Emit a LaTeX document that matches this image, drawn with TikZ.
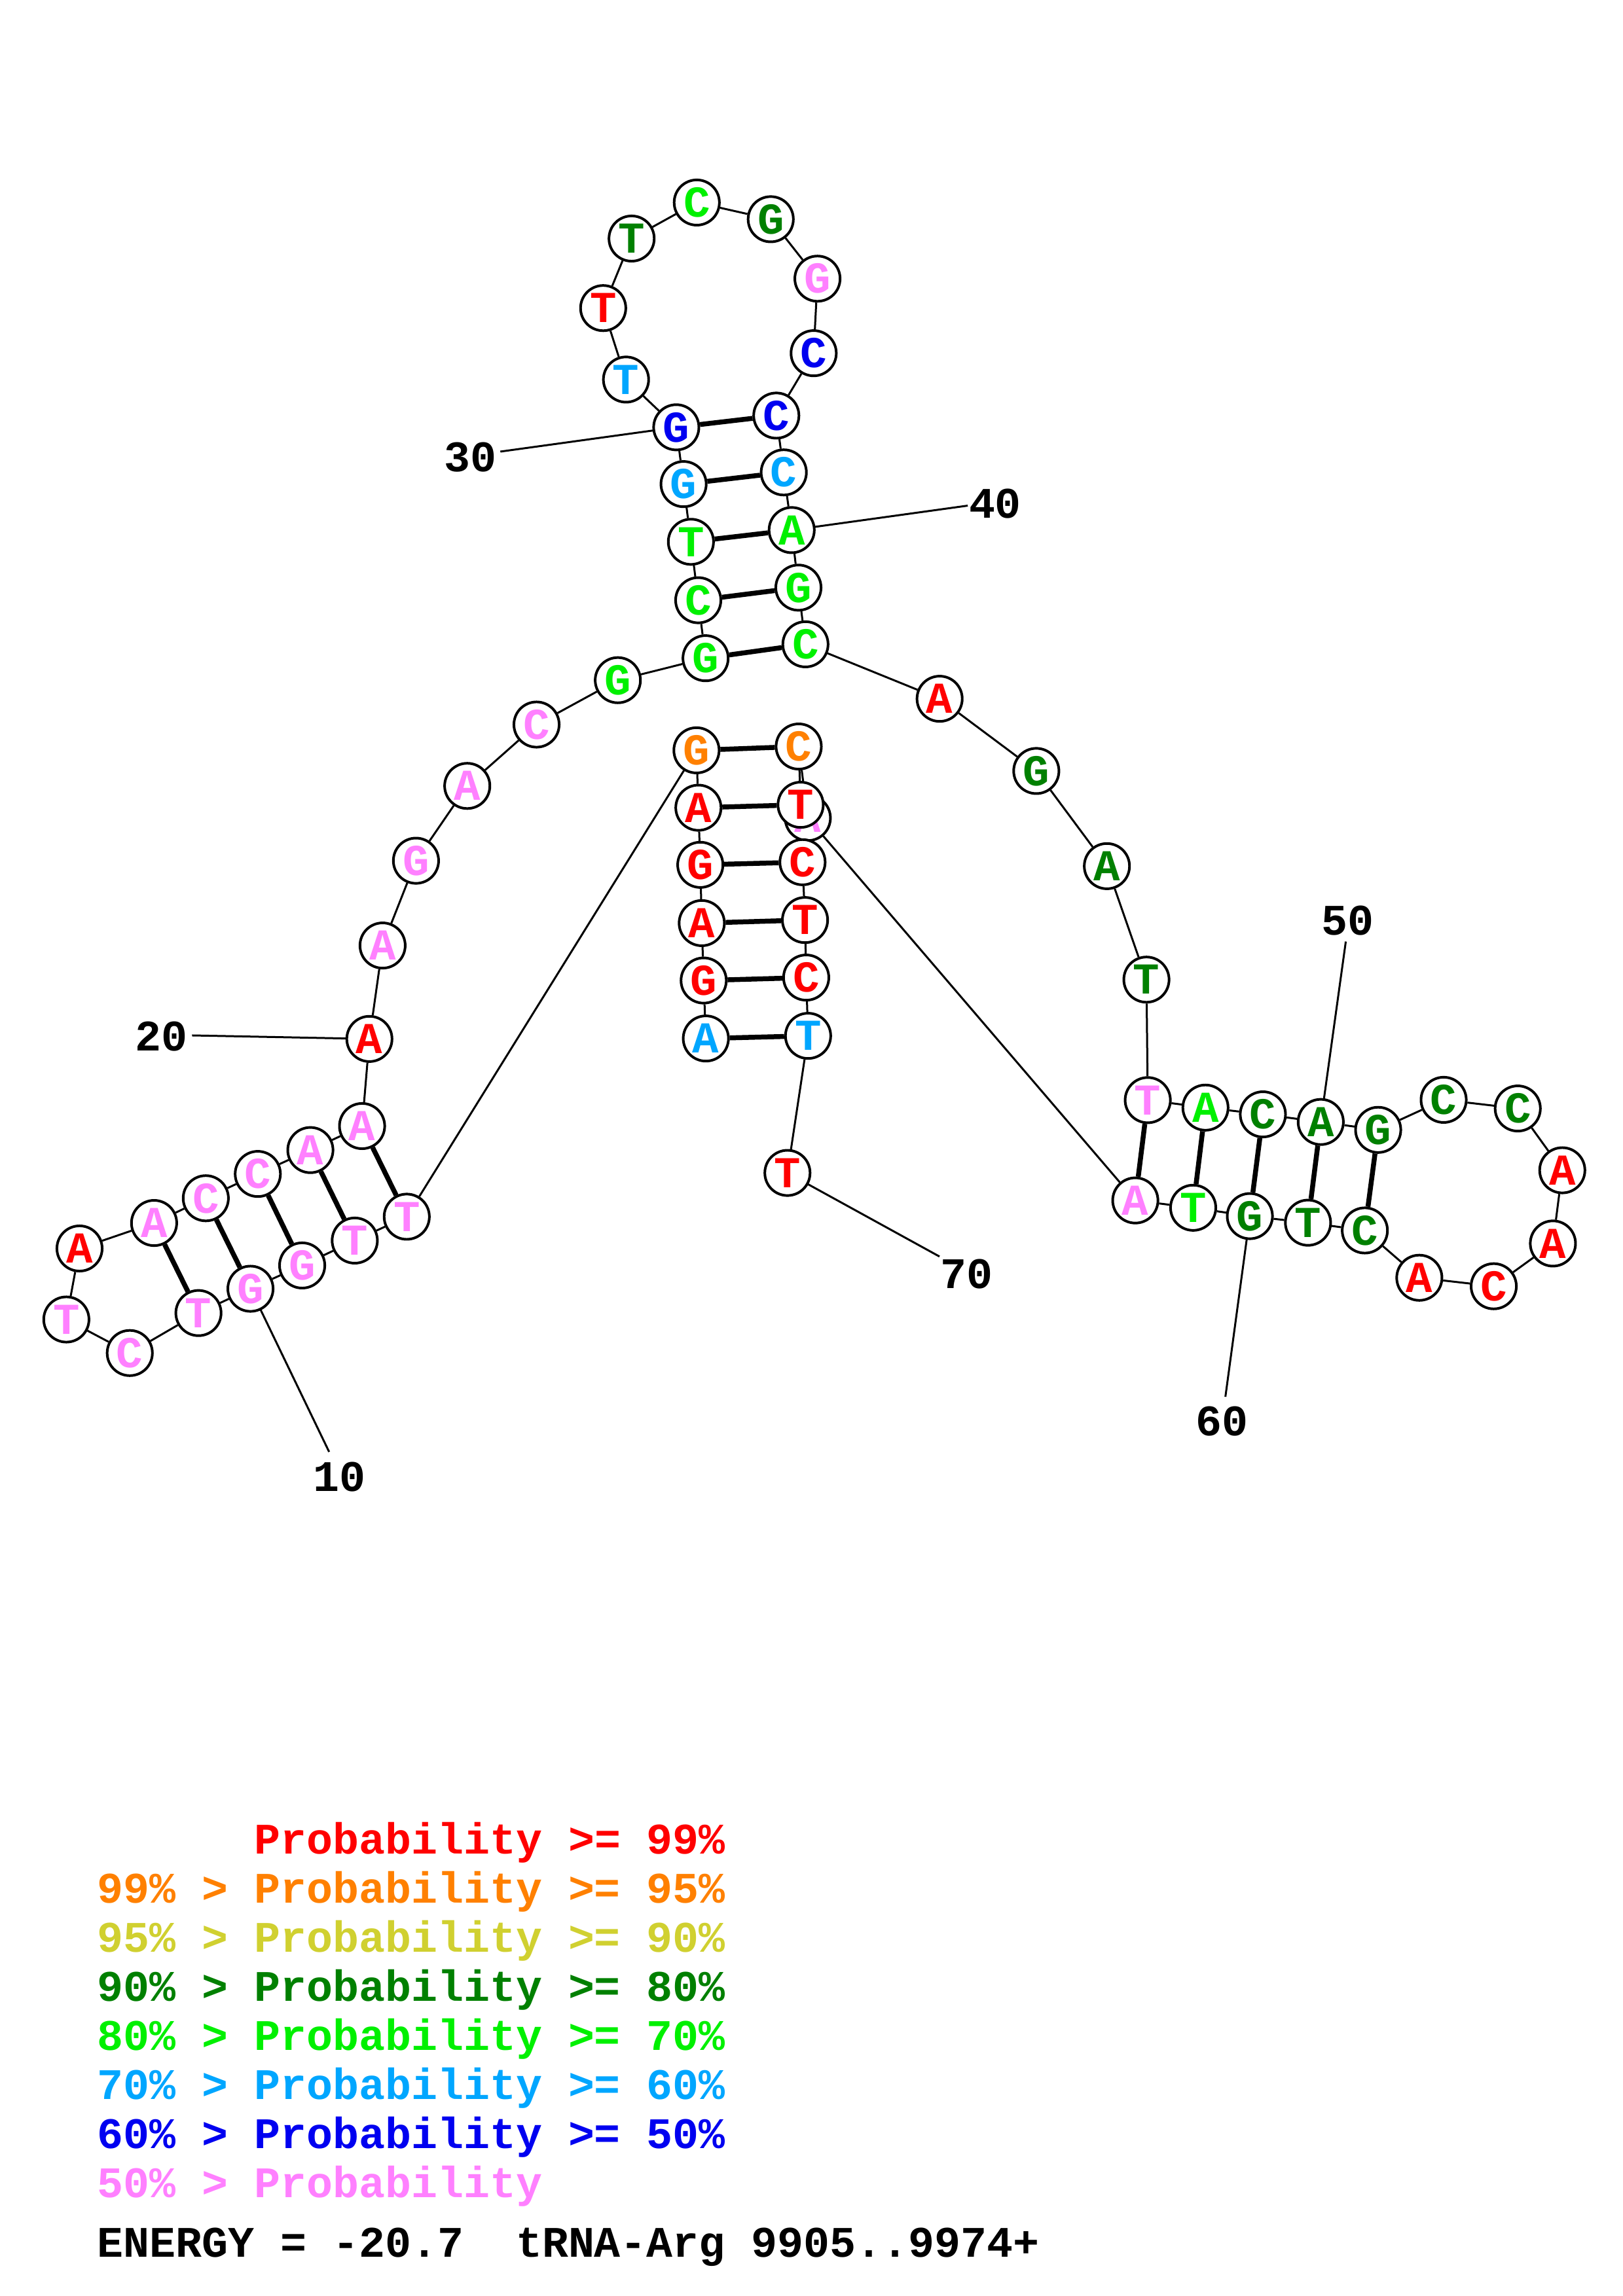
\documentclass[tikz,border=0pt]{standalone}
\usepackage{fontspec}
\setmonofont{Liberation Mono}
\usetikzlibrary{backgrounds}
\definecolor{pR}{RGB}{255,0,0}
\definecolor{pO}{RGB}{255,128,0}
\definecolor{pY}{RGB}{208,208,48}
\definecolor{pDG}{RGB}{0,128,0}
\definecolor{pG}{RGB}{0,240,0}
\definecolor{pLB}{RGB}{0,166,255}
\definecolor{pB}{RGB}{0,0,240}
\definecolor{pP}{RGB}{255,128,255}
\tikzset{
  nt/.style={circle,draw=black,line width=0.95pt,fill=white,minimum size=16.6pt,inner sep=0pt,
    font=\ttfamily\bfseries\fontsize{16.2pt}{18pt}\selectfont},
  bb/.style={line width=0.72pt},
  bp/.style={line width=1.8pt},
  numlbl/.style={inner sep=0pt,font=\ttfamily\bfseries\fontsize{16pt}{18pt}\selectfont},
  leg/.style={anchor=base west,inner sep=0pt,font=\ttfamily\bfseries\fontsize{16pt}{18pt}\selectfont}
}
\begin{document}
\begin{tikzpicture}[x=0.5373pt,y=-0.5373pt]
\useasboundingbox (0,0) rectangle (1108,1568);
% nucleotides
\foreach \i/\l/\c/\x/\y in {
 1/A/pLB/481.9/709.2, 2/G/pR/480.4/669.6, 3/A/pR/479.1/630.4, 4/G/pR/478.1/590.6,
 5/A/pR/476.8/551.6, 6/G/pO/475.5/512.4, 7/T/pP/277.7/830.9, 8/T/pP/242.2/847.2,
 9/G/pP/206.3/864.2, 10/G/pP/171.0/880.1, 11/T/pP/135.5/896.7, 12/C/pP/88.6/924.0,
 13/T/pP/45.3/901.1, 14/A/pR/54.3/852.6, 15/A/pP/105.2/835.2, 16/C/pP/140.5/818.3,
 17/C/pP/176.0/801.7, 18/A/pP/211.9/785.4, 19/A/pP/247.2/769.0, 20/A/pR/252.2/709.5,
 21/A/pP/261.2/645.7, 22/G/pP/284.0/587.8, 23/A/pP/319.0/536.7, 24/C/pP/366.3/494.8,
 25/G/pG/421.8/464.5, 26/G/pG/481.7/449.5, 27/C/pG/476.7/409.9, 28/T/pG/471.7/370.0,
 29/G/pLB/466.7/330.6, 30/G/pB/461.7/291.8, 31/T/pLB/427.4/259.2, 32/T/pR/411.8/210.4,
 33/T/pDG/431.2/162.9, 34/C/pG/475.7/138.3, 35/G/pDG/526.2/149.7, 36/G/pP/558.1/190.3,
 37/C/pB/555.5/241.2, 38/C/pB/530.0/283.8, 39/C/pLB/535.1/322.6, 40/A/pG/540.5/362.0,
 41/G/pG/545.1/401.3, 42/C/pG/549.9/440.0, 43/A/pR/641.5/477.2, 44/G/pDG/707.5/526.5,
 45/A/pDG/755.7/591.5, 46/T/pDG/782.7/669.0, 47/T/pP/783.6/751.3, 48/A/pG/823.0/756.4,
 49/C/pDG/862.2/761.0, 50/A/pDG/901.7/766.2, 51/G/pDG/940.9/771.6, 52/C/pDG/985.6/751.1,
 53/C/pDG/1036.2/757.0, 54/A/pR/1066.6/799.2, 55/A/pR/1060.2/849.2, 56/C/pR/1019.8/878.4,
 57/A/pR/969.0/872.6, 58/C/pDG/931.8/840.3, 59/T/pDG/893.0/835.0, 60/G/pDG/853.3/830.5,
 61/T/pG/814.6/824.8, 62/A/pP/775.1/819.8, 63/A/pP/551.5/558.6, 64/C/pO/545.3/509.8,
 65/T/pR/546.6/549.6, 66/C/pR/547.9/588.8, 67/T/pR/549.6/628.3, 68/C/pR/550.4/667.6,
 69/T/pLB/551.7/707.4, 70/T/pR/537.6/801.0}
 { \node[nt,text=\c] (n\i) at (\x,\y) {\l}; }
% label end points
\coordinate (e10) at (224.7,991.5);
\coordinate (e20) at (131.1,707.1);
\coordinate (e30) at (341.6,308.4);
\coordinate (e40) at (660.7,345.3);
\coordinate (e50) at (918.8,643.0);
\coordinate (e60) at (836.6,953.9);
\coordinate (e70) at (641.4,858.1);
\node[numlbl] (t10) at (231.7,1008.6) {10};
\node[numlbl] (t20) at (110.1,707.9) {20};
\node[numlbl] (t30) at (321.1,312.1) {30};
\node[numlbl] (t40) at (679.4,343.8) {40};
\node[numlbl] (t50) at (919.9,628.7) {50};
\node[numlbl] (t60) at (834.3,970.6) {60};
\node[numlbl] (t70) at (660.0,870.1) {70};
\begin{scope}[on background layer]
  \foreach \i [evaluate=\i as \j using int(\i+1)] in {1,...,69}
    { \draw[bb] (n\i) -- (n\j); }
  \foreach \a/\b in {1/69,2/68,3/67,4/66,5/65,6/64,7/19,8/18,9/17,10/16,11/15,
                     26/42,27/41,28/40,29/39,30/38,47/62,48/61,49/60,50/59,51/58}
    { \draw[bp] (n\a) -- (n\b); }
  \foreach \k in {10,20,30,40,50,60,70}
    { \draw[bb] (n\k.center) -- (e\k); }
\end{scope}
% legend
\node[leg,text=pR]  (l1) at (66,1266)   {\phantom{99\% > }Probability >= 99\%};
\node[leg,text=pO]  (l2) at (66,1299.5) {99\% > Probability >= 95\%};
\node[leg,text=pY]  (l3) at (66,1333)   {95\% > Probability >= 90\%};
\node[leg,text=pDG] (l4) at (66,1366.5) {90\% > Probability >= 80\%};
\node[leg,text=pG]  (l5) at (66,1400)   {80\% > Probability >= 70\%};
\node[leg,text=pLB] (l6) at (66,1433.5) {70\% > Probability >= 60\%};
\node[leg,text=pB]  (l7) at (66,1467)   {60\% > Probability >= 50\%};
\node[leg,text=pP]  (l8) at (66,1500.5) {50\% > Probability};
\node[leg,text=black] (l9) at (66,1541.5) {ENERGY = -20.7\ \ tRNA-Arg 9905..9974+};
\end{tikzpicture}
\end{document}
